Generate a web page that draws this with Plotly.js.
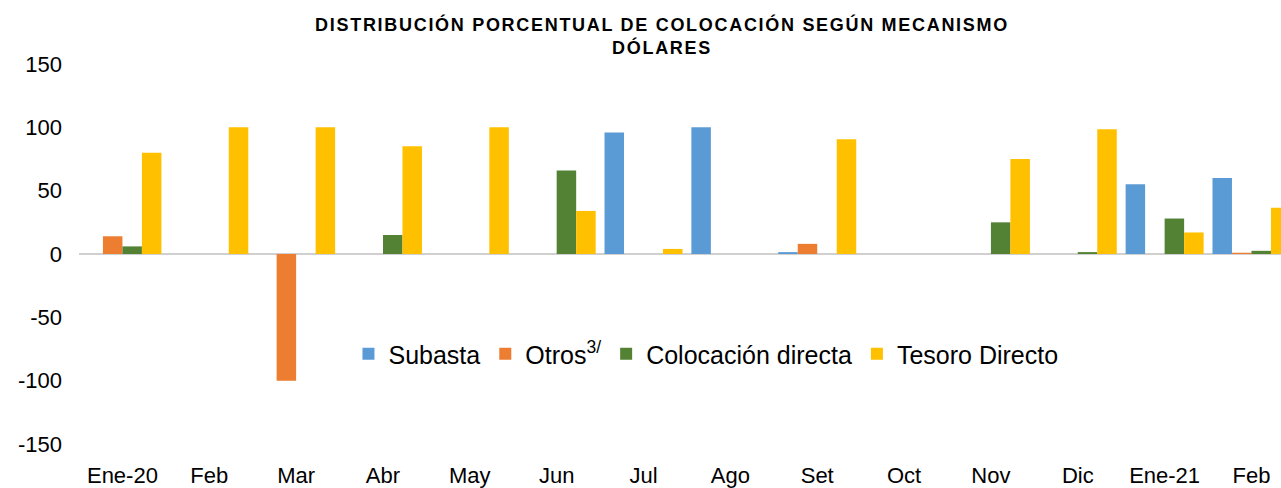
<!DOCTYPE html>
<html>
<head>
<meta charset="utf-8">
<script src="https://cdn.plot.ly/plotly-3.0.1.min.js"></script>
<style>
  html, body { margin: 0; padding: 0; background: #fff; overflow: hidden; }
  #chart { width: 1281px; height: 488px; }
  .gtitle { letter-spacing: 1.7px; }
</style>
</head>
<body>
<div id="chart"></div>
<script>
// Categories (months)
const categories = ['Ene-20', 'Feb', 'Mar', 'Abr', 'May', 'Jun', 'Jul', 'Ago', 'Set', 'Oct', 'Nov', 'Dic', 'Ene-21', 'Feb'];

// Series values (%)
const subasta    = [0, 0, 0,    0,  0,   0,  96, 100, 1.5,  0,  0,  0,    55, 60];
const otros      = [14, 0, -100, 0, 0,   0,  0,  0,   8,    0,  0,  0,    0,  1];
const colocacion = [6, 0, 0,    15, 0,   66, 0,  0,   0,    0,  25, 1.5,  28, 2.5];
const tesoro     = [80, 100, 100, 85, 100, 34, 4, 0,  90.5, 0,  75, 98.5, 17, 36.5];

// Series names
const seriesNames = ['Subasta', 'Otros<sup>3/</sup>', 'Colocación directa', 'Tesoro Directo'];
const seriesColors = ['#5B9BD5', '#ED7D31', '#548235', '#FFC000'];

// Y tick values
const yTicks = [-150, -100, -50, 0, 50, 100, 150];

const xIdx = categories.map((_, i) => i);
const seriesData = [subasta, otros, colocacion, tesoro];

const traces = seriesData.map((vals, k) => ({
  type: 'bar',
  name: seriesNames[k],
  x: xIdx,
  y: vals,
  marker: { color: seriesColors[k], line: { width: 0 } },
  hoverinfo: 'name+y'
}));

const fontFam = 'Liberation Sans, Arial, sans-serif';

const layout = {
  width: 1281,
  height: 488,
  margin: { l: 79, r: 0, t: 64, b: 44, pad: 0 },
  paper_bgcolor: '#ffffff',
  plot_bgcolor: '#ffffff',
  barmode: 'group',
  bargap: 0.102,
  bargroupgap: 0,
  font: { family: fontFam, color: '#000000' },
  title: {
    text: 'DISTRIBUCIÓN PORCENTUAL DE COLOCACIÓN SEGÚN MECANISMO<br>DÓLARES',
    font: { family: fontFam, size: 18, color: '#000000', weight: 700 },
    xref: 'container', x: 0.5168, xanchor: 'center',
    yref: 'container', y: 0.937, yanchor: 'top'
  },
  xaxis: {
    type: 'linear',
    range: [-0.5, 13.34],
    tickmode: 'array',
    tickvals: xIdx,
    ticktext: categories,
    showgrid: false,
    zeroline: false,
    showline: false,
    ticks: '',
    ticklabelstandoff: 16,
    tickfont: { family: fontFam, size: 22, color: '#000000' },
    fixedrange: true,
    automargin: false
  },
  yaxis: {
    range: [-150, 150],
    tickmode: 'array',
    tickvals: yTicks,
    ticktext: yTicks.map(String),
    showgrid: false,
    zeroline: true,
    zerolinecolor: '#d0d0d0',
    zerolinewidth: 1.5,
    showline: false,
    ticks: '',
    ticklabelstandoff: 16,
    tickfont: { family: fontFam, size: 22, color: '#000000' },
    fixedrange: true,
    automargin: false
  },
  legend: {
    orientation: 'h',
    xref: 'paper', x: 0.5216, xanchor: 'center',
    yref: 'paper', y: 0.2368, yanchor: 'middle',
    font: { family: fontFam, size: 25, color: '#000000' },
    bgcolor: 'rgba(0,0,0,0)',
    traceorder: 'normal'
  },
  showlegend: true
};

Plotly.newPlot('chart', traces, layout, { displayModeBar: false, staticPlot: true });
</script>
</body>
</html>
